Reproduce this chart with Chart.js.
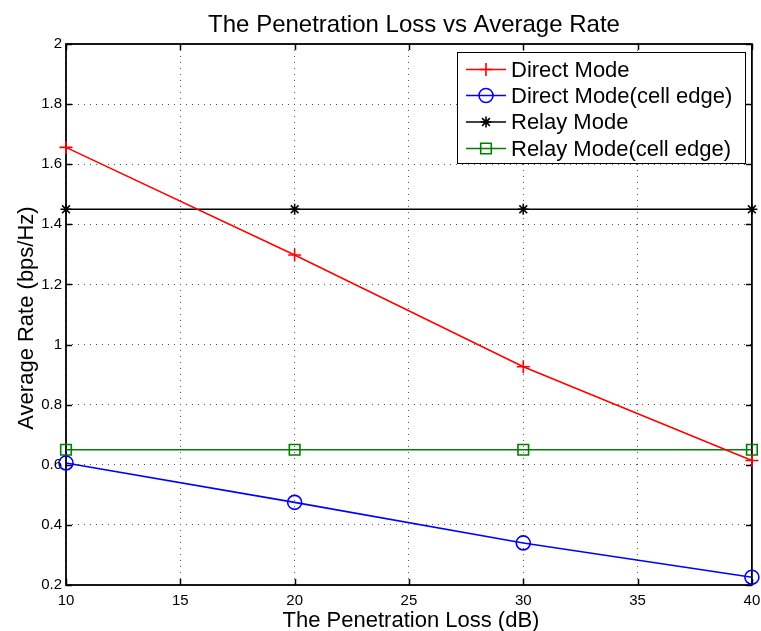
<!DOCTYPE html>
<html>
<head>
<meta charset="utf-8">
<script src="https://cdn.jsdelivr.net/npm/chart.js@4/dist/chart.umd.min.js"></script>
<style>
html,body{margin:0;padding:0;background:#fff;}
#wrap{width:761px;height:631px;position:relative;}
</style>
</head>
<body>
<div id="wrap"><canvas id="c" width="761" height="631"></canvas></div>
<script>
const penetrationLoss = [10, 20, 30, 40];
const directMode = [1.656, 1.298, 0.926, 0.614];
const directModeEdge = [0.606, 0.475, 0.340, 0.226];
const relayMode = [1.45, 1.45, 1.45, 1.45];
const relayModeEdge = [0.65, 0.65, 0.65, 0.65];
const seriesLabels = ['Direct Mode', 'Direct Mode(cell edge)', 'Relay Mode', 'Relay Mode(cell edge)'];
const titleText = 'The Penetration Loss vs Average Rate';
const xTitle = 'The Penetration Loss (dB)';
const yTitle = 'Average Rate (bps/Hz)';

const FONT = '"Liberation Sans", Arial, Helvetica, sans-serif';
Chart.defaults.font.family = FONT;

function pts(arr){ return penetrationLoss.map((x,i)=>({x:x, y:arr[i]})); }

function drawMarker(ctx, style, x, y, r, color, lw){
  ctx.save();
  ctx.strokeStyle = color; ctx.lineWidth = lw;
  ctx.beginPath();
  if (style === 'cross') {
    ctx.moveTo(x - r, y); ctx.lineTo(x + r, y);
    ctx.moveTo(x, y - r); ctx.lineTo(x, y + r);
  } else if (style === 'circle') {
    ctx.arc(x, y, r, 0, Math.PI * 2);
  } else if (style === 'star') {
    ctx.moveTo(x - r, y); ctx.lineTo(x + r, y);
    ctx.moveTo(x, y - r); ctx.lineTo(x, y + r);
    const d = r * Math.SQRT1_2;
    ctx.moveTo(x - d, y - d); ctx.lineTo(x + d, y + d);
    ctx.moveTo(x - d, y + d); ctx.lineTo(x + d, y - d);
  } else if (style === 'rect') {
    const s = r * Math.SQRT1_2;
    ctx.rect(x - s, y - s, 2 * s, 2 * s);
  }
  ctx.stroke();
  ctx.restore();
}

const framePlugin = {
  id: 'frame',
  beforeDatasetsDraw(chart){
    const {ctx, chartArea:a, scales} = chart;
    ctx.save();
    ctx.strokeStyle = '#000';
    ctx.lineWidth = 1.5;
    const L = 6;
    ctx.beginPath();
    scales.x.ticks.forEach(t => {
      const px = Math.round(scales.x.getPixelForValue(t.value)) + 0.5;
      ctx.moveTo(px, a.bottom); ctx.lineTo(px, a.bottom - L);
      ctx.moveTo(px, a.top); ctx.lineTo(px, a.top + L);
    });
    scales.y.ticks.forEach(t => {
      const py = Math.round(scales.y.getPixelForValue(t.value)) + 0.5;
      ctx.moveTo(a.left, py); ctx.lineTo(a.left + L, py);
      ctx.moveTo(a.right, py); ctx.lineTo(a.right - L, py);
    });
    ctx.stroke();
    ctx.lineWidth = 1.8;
    ctx.strokeRect(a.left, a.top, a.right - a.left, a.bottom - a.top);
    ctx.restore();
  },
  afterDraw(chart){
    const {ctx} = chart;
    ctx.save();
    ctx.fillStyle = '#000';
    ctx.font = '24px ' + FONT;
    ctx.textAlign = 'center';
    ctx.textBaseline = 'alphabetic';
    ctx.fillText(titleText, 414, 32);
    ctx.font = '22px ' + FONT;
    ctx.fillText(xTitle, 411, 627);
    ctx.save();
    ctx.translate(33, 318);
    ctx.rotate(-Math.PI / 2);
    ctx.fillText(yTitle, 0, 0);
    ctx.restore();
    const bx = 457.5, by = 52.5, bw = 288, bh = 111;
    ctx.fillStyle = '#fff';
    ctx.fillRect(bx, by, bw, bh);
    ctx.strokeStyle = '#000';
    ctx.lineWidth = 1;
    ctx.strokeRect(bx, by, bw, bh);
    const rows = [69.5, 95.5, 122, 148.5];
    ctx.font = '22px ' + FONT;
    ctx.textAlign = 'left';
    ctx.textBaseline = 'middle';
    chart.data.datasets.forEach((ds, i) => {
      const y = rows[i];
      ctx.strokeStyle = ds.borderColor;
      ctx.lineWidth = ds.borderWidth;
      ctx.beginPath();
      ctx.moveTo(466, y); ctx.lineTo(506, y);
      ctx.stroke();
      drawMarker(ctx, ds.pointStyle, 486, y, ds.pointRadius, ds.borderColor, ds.pointBorderWidth);
      ctx.fillStyle = '#000';
      ctx.fillText(ds.label, 511, y + 1);
    });
    ctx.restore();
  }
};

const mk = (label, arr, color, style, r) => ({
  label: label,
  data: pts(arr),
  borderColor: color,
  backgroundColor: 'rgba(0,0,0,0)',
  borderWidth: 1.6,
  pointStyle: style,
  pointRadius: r,
  pointHoverRadius: r,
  pointBorderColor: color,
  pointBackgroundColor: 'rgba(0,0,0,0)',
  pointBorderWidth: 1.6,
  tension: 0,
  fill: false,
  clip: false
});

new Chart(document.getElementById('c'), {
  type: 'line',
  data: {
    datasets: [
      mk(seriesLabels[0], directMode, '#ff0000', 'cross', 6.5),
      mk(seriesLabels[1], directModeEdge, '#0000ff', 'circle', 7),
      mk(seriesLabels[2], relayMode, '#000000', 'star', 5.5),
      mk(seriesLabels[3], relayModeEdge, '#008000', 'rect', 7.5)
    ]
  },
  options: {
    responsive: false,
    animation: false,
    devicePixelRatio: 1,
    layout: { padding: { top: 44, right: 8, left: 0, bottom: 0 } },
    plugins: { legend: { display: false }, title: { display: false }, tooltip: { enabled: false } },
    events: [],
    scales: {
      x: {
        type: 'linear', min: 10, max: 40,
        afterFit(axis){ axis.height = 46; axis.paddingLeft = 0; axis.paddingRight = 0; },
        ticks: { stepSize: 5, color: '#000', font: { size: 15 }, padding: 7, maxRotation: 0 },
        grid: { color: '#555', lineWidth: 1, drawTicks: false },
        border: { display: false, dash: [1, 5] }
      },
      y: {
        type: 'linear', min: 0.2, max: 2,
        afterFit(axis){ axis.width = 66; axis.paddingTop = 0; axis.paddingBottom = 0; },
        ticks: { stepSize: 0.2, color: '#000', font: { size: 15 }, padding: 4,
          callback: v => String(Number(v.toFixed(1))) },
        grid: { color: '#555', lineWidth: 1, drawTicks: false },
        border: { display: false, dash: [1, 5] }
      }
    }
  },
  plugins: [framePlugin]
});
</script>
</body>
</html>
